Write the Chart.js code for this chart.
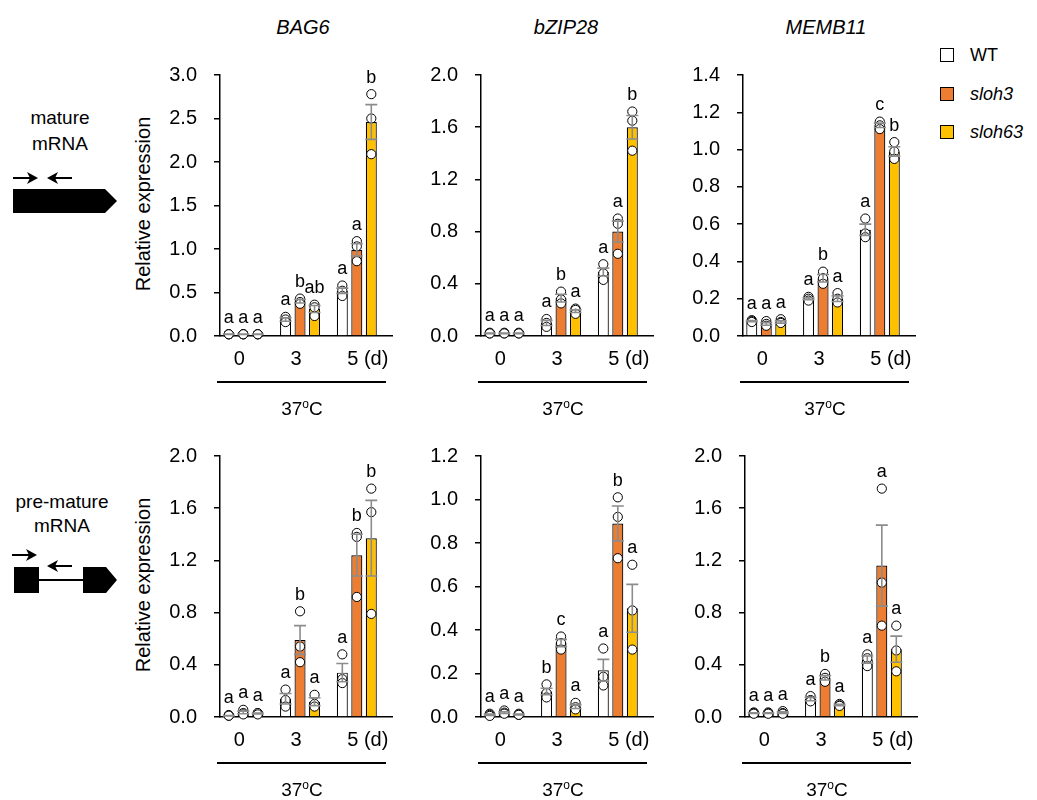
<!DOCTYPE html>
<html>
<head>
<meta charset="utf-8">
<script src="https://cdn.jsdelivr.net/npm/chart.js@4.4.1/dist/chart.umd.min.js"></script>
<style>
  body { margin: 0; background: #fff; font-family: Arial, "Liberation Sans", sans-serif; color: #000; }
  #fig { position: relative; width: 1037px; height: 800px; overflow: hidden; }
  .abs { position: absolute; white-space: nowrap; }
  .gene { font-style: italic; font-size: 20px; transform: translate(-50%, -50%); }
  .temp { font-size: 19px; transform: translate(-50%, -50%); }
  .temp sup { font-size: 12px; vertical-align: 7px; line-height: 0; }
  .uline { height: 1.5px; background: #000; }
  .ytitle { font-size: 20px; transform: translate(-50%, -50%) rotate(-90deg); }
  canvas { position: absolute; }
  .key { position: absolute; width: 12px; height: 12px; border: 1.5px solid #000; }
  .keytxt { font-size: 18px; transform: translateY(-50%); }
</style>
</head>
<body>
<div id="fig">
  <svg class="abs" style="left:0;top:0" width="130" height="800">
    <g font-family="Arial, 'Liberation Sans', sans-serif" font-size="19" text-anchor="middle" dominant-baseline="middle">
      <text x="60" y="119">mature</text>
      <text x="60" y="145">mRNA</text>
      <text x="62" y="503">pre-mature</text>
      <text x="62" y="527">mRNA</text>
    </g>
    <!-- mature mRNA -->
    <line x1="13" y1="178" x2="31" y2="178" stroke="#000" stroke-width="2"/>
    <polygon points="38,178 27,172 30,178 27,184" fill="#000"/>
    <line x1="54" y1="178" x2="72" y2="178" stroke="#000" stroke-width="2"/>
    <polygon points="47,178 58,172 55,178 58,184" fill="#000"/>
    <polygon points="13,189 105,189 117,201 105,213 13,213" fill="#000"/>
    <!-- pre-mature mRNA -->
    <line x1="12" y1="555" x2="30" y2="555" stroke="#000" stroke-width="2"/>
    <polygon points="37,555 26,549 29,555 26,561" fill="#000"/>
    <line x1="54" y1="566" x2="72" y2="566" stroke="#000" stroke-width="2"/>
    <polygon points="47,566 58,560 55,566 58,572" fill="#000"/>
    <rect x="14" y="567" width="25" height="26" fill="#000"/>
    <line x1="39" y1="580" x2="84" y2="580" stroke="#000" stroke-width="2"/>
    <polygon points="83,567 106,567 117,580 106,593 83,593" fill="#000"/>
  </svg>

  <div class="abs gene" style="left:303px;top:27px">BAG6</div>
  <div class="abs gene" style="left:566px;top:27px">bZIP28</div>
  <div class="abs gene" style="left:826px;top:27px">MEMB11</div>

  <div class="abs ytitle" style="left:143px;top:204px">Relative expression</div>
  <div class="abs ytitle" style="left:143px;top:585px">Relative expression</div>

  <div class="key" style="left:940px;top:48px;background:#fff"></div>
  <div class="key" style="left:940px;top:87px;background:#ed7d31"></div>
  <div class="key" style="left:940px;top:125px;background:#ffc000"></div>
  <div class="abs keytxt" style="left:970px;top:55px">WT</div>
  <div class="abs keytxt" style="left:970px;top:94px;font-style:italic">sloh3</div>
  <div class="abs keytxt" style="left:970px;top:132px;font-style:italic">sloh63</div>

  <canvas id="bag6Mat" width="290" height="350"></canvas>
  <canvas id="bzip28Mat" width="290" height="350"></canvas>
  <canvas id="memb11Mat" width="290" height="350"></canvas>
  <canvas id="bag6Pre" width="290" height="350"></canvas>
  <canvas id="bzip28Pre" width="290" height="350"></canvas>
  <canvas id="memb11Pre" width="290" height="350"></canvas>
</div>

<script>
// x categories and genotypes
const days = ["0", "3", "5"];
const dayUnit = "(d)";
const lines = ["WT", "sloh3", "sloh63"];
const tempLabel = "37";

// ---- mature mRNA ----
// rows: WT, sloh3, sloh63 ; columns: 0, 3, 5 d
const bag6MatMean = [[0.02, 0.19, 0.52], [0.02, 0.40, 0.99], [0.02, 0.31, 2.46]];
const bag6MatSE = [[0.002, 0.02, 0.03], [0.002, 0.02, 0.07], [0.002, 0.04, 0.20]];
const bag6MatPts = [
  [[0.02, 0.02, 0.02], [0.22, 0.19, 0.16], [0.58, 0.52, 0.46]],
  [[0.02, 0.02, 0.02], [0.43, 0.39, 0.37], [1.09, 1.03, 0.86]],
  [[0.02, 0.02, 0.02], [0.36, 0.33, 0.23], [2.78, 2.50, 2.09]]
];
const bag6MatLetters = [["a", "a", "a"], ["a", "b", "a"], ["a", "ab", "b"]];

const bzip28MatMean = [[0.02, 0.10, 0.49], [0.02, 0.29, 0.80], [0.02, 0.19, 1.60]];
const bzip28MatSE = [[0.002, 0.02, 0.03], [0.002, 0.03, 0.08], [0.002, 0.01, 0.09]];
const bzip28MatPts = [
  [[0.025, 0.02, 0.02], [0.13, 0.10, 0.07], [0.55, 0.48, 0.43]],
  [[0.025, 0.02, 0.02], [0.34, 0.28, 0.25], [0.90, 0.86, 0.63]],
  [[0.025, 0.02, 0.02], [0.21, 0.20, 0.17], [1.72, 1.65, 1.42]]
];
const bzip28MatLetters = [["a", "a", "a"], ["a", "b", "a"], ["a", "a", "b"]];

const memb11MatMean = [[0.08, 0.20, 0.57], [0.065, 0.31, 1.13], [0.075, 0.20, 0.99]];
const memb11MatSE = [[0.003, 0.005, 0.03], [0.007, 0.02, 0.012], [0.006, 0.015, 0.025]];
const memb11MatPts = [
  [[0.085, 0.08, 0.075], [0.21, 0.20, 0.19], [0.63, 0.55, 0.53]],
  [[0.08, 0.065, 0.055], [0.345, 0.31, 0.28], [1.15, 1.13, 1.11]],
  [[0.09, 0.075, 0.07], [0.23, 0.20, 0.18], [1.04, 0.99, 0.95]]
];
const memb11MatLetters = [["a", "a", "a"], ["a", "b", "c"], ["a", "a", "b"]];

// ---- pre-mature mRNA ----
const bag6PreMean = [[0.01, 0.14, 0.34], [0.035, 0.59, 1.24], [0.027, 0.117, 1.37]];
const bag6PreSE = [[0.002, 0.04, 0.07], [0.01, 0.11, 0.16], [0.003, 0.03, 0.29]];
const bag6PrePts = [
  [[0.015, 0.01, 0.01], [0.21, 0.13, 0.08], [0.48, 0.29, 0.26]],
  [[0.055, 0.03, 0.02], [0.81, 0.54, 0.42], [1.41, 1.38, 0.92]],
  [[0.03, 0.03, 0.02], [0.17, 0.10, 0.08], [1.75, 1.57, 0.79]]
];
const bag6PreLetters = [["a", "a", "a"], ["a", "b", "b"], ["a", "a", "b"]];

const bzip28PreMean = [[0.01, 0.117, 0.215], [0.02, 0.34, 0.89], [0.012, 0.048, 0.50]];
const bzip28PreSE = [[0.003, 0.015, 0.05], [0.004, 0.017, 0.08], [0.002, 0.009, 0.11]];
const bzip28PrePts = [
  [[0.015, 0.01, 0.005], [0.15, 0.11, 0.09], [0.315, 0.185, 0.145]],
  [[0.03, 0.02, 0.015], [0.37, 0.34, 0.31], [1.01, 0.92, 0.73]],
  [[0.015, 0.01, 0.01], [0.065, 0.045, 0.035], [0.70, 0.49, 0.31]]
];
const bzip28PreLetters = [["a", "b", "a"], ["a", "c", "b"], ["a", "a", "a"]];

const memb11PreMean = [[0.03, 0.137, 0.44], [0.03, 0.30, 1.16], [0.033, 0.092, 0.52]];
const memb11PreSE = [[0.003, 0.012, 0.027], [0.003, 0.017, 0.31], [0.006, 0.005, 0.10]];
const memb11PrePts = [
  [[0.035, 0.03, 0.025], [0.16, 0.13, 0.12], [0.48, 0.45, 0.39]],
  [[0.035, 0.03, 0.025], [0.33, 0.30, 0.27], [1.75, 1.03, 0.70]],
  [[0.045, 0.03, 0.025], [0.10, 0.09, 0.085], [0.70, 0.51, 0.35]]
];
const memb11PreLetters = [["a", "a", "a"], ["a", "b", "a"], ["a", "a", "a"]];

// y axis ranges
const yMax = [3.0, 2.0, 1.4, 2.0, 1.2, 2.0];
const yStep = [0.5, 0.4, 0.2, 0.4, 0.2, 0.4];

// ===== layout / style =====
const barColors = ["#ffffff", "#ed7d31", "#ffc000"];
const FONT = "Arial, 'Liberation Sans', sans-serif";
const axisX = [220, 481, 743, 220, 481, 745];
const rowTop = [60, 60, 60, 441, 441, 441];

const panels = [
  { id: "bag6Mat", mean: bag6MatMean, se: bag6MatSE, pts: bag6MatPts, letters: bag6MatLetters },
  { id: "bzip28Mat", mean: bzip28MatMean, se: bzip28MatSE, pts: bzip28MatPts, letters: bzip28MatLetters },
  { id: "memb11Mat", mean: memb11MatMean, se: memb11MatSE, pts: memb11MatPts, letters: memb11MatLetters },
  { id: "bag6Pre", mean: bag6PreMean, se: bag6PreSE, pts: bag6PrePts, letters: bag6PreLetters },
  { id: "bzip28Pre", mean: bzip28PreMean, se: bzip28PreSE, pts: bzip28PrePts, letters: bzip28PreLetters },
  { id: "memb11Pre", mean: memb11PreMean, se: memb11PreSE, pts: memb11PrePts, letters: memb11PreLetters }
];
const panelById = {};
panels.forEach(p => { panelById[p.id] = p; });

// replicate dots, error bars, letters and x labels
const overlay = {
  id: "overlay",
  afterDatasetsDraw(chart) {
    const p = panelById[chart.canvas.id];
    const ctx = chart.ctx;
    const ys = chart.scales.y;
    const xs = chart.scales.x;
    const r = 4.6;
    ctx.save();
    lines.forEach((name, s) => {
      const meta = chart.getDatasetMeta(s);
      meta.data.forEach((bar, i) => {
        const cx = bar.x;
        const m = p.mean[s][i];
        const e = p.se[s][i];
        const yHi = ys.getPixelForValue(m + e);
        const yLo = ys.getPixelForValue(Math.max(0, m - e));
        let top = yHi;
        p.pts[s][i].forEach(v => {
          const cy = ys.getPixelForValue(v);
          ctx.beginPath();
          ctx.arc(cx, cy, r, 0, Math.PI * 2);
          ctx.fillStyle = "#fff";
          ctx.fill();
          ctx.lineWidth = 1;
          ctx.strokeStyle = "#000";
          ctx.stroke();
          top = Math.min(top, cy - r);
        });
        ctx.strokeStyle = "#8c8c8c";
        ctx.lineWidth = 1.6;
        ctx.beginPath();
        ctx.moveTo(cx, yHi); ctx.lineTo(cx, yLo);
        ctx.moveTo(cx - 6, yHi); ctx.lineTo(cx + 6, yHi);
        ctx.moveTo(cx - 6, yLo); ctx.lineTo(cx + 6, yLo);
        ctx.stroke();
        ctx.fillStyle = "#000";
        ctx.font = "18px " + FONT;
        ctx.textAlign = "center";
        ctx.textBaseline = "alphabetic";
        ctx.fillText(p.letters[s][i], cx, top - 7);
      });
    });
    // day labels under the axis
    const ly = chart.chartArea.bottom + 23;
    ctx.font = "20px " + FONT;
    ctx.fillStyle = "#000";
    ctx.textBaseline = "middle";
    days.forEach((d, i) => {
      const cx = xs.getPixelForValue(i) - 4;
      ctx.textAlign = "center";
      ctx.fillText(d, cx, ly);
      if (i === days.length - 1) {
        const w = ctx.measureText(d).width;
        ctx.textAlign = "left";
        ctx.fillText(" " + dayUnit, cx + w / 2, ly);
      }
    });
    ctx.restore();
  }
};

panels.forEach((p, k) => {
  const canvas = document.getElementById(p.id);
  canvas.style.left = (axisX[k] - 100) + "px";
  canvas.style.top = rowTop[k] + "px";

  const datasets = lines.map((name, s) => ({
    label: name,
    data: p.mean[s].map((v, i) => ({ x: i, y: v })),
    backgroundColor: barColors[s],
    borderColor: "#000",
    borderWidth: 1.2,
    categoryPercentage: 0.766,
    barPercentage: 0.76
  }));

  new Chart(canvas, {
    type: "bar",
    data: { datasets: datasets },
    options: {
      responsive: false,
      animation: false,
      layout: { padding: { top: 15, right: 18, left: 0, bottom: 0 } },
      plugins: { legend: { display: false }, tooltip: { enabled: false } },
      scales: {
        x: {
          type: "linear",
          min: -0.41,
          max: 2.62,
          offset: false,
          ticks: { display: false, stepSize: 1, includeBounds: false },
          grid: { display: false },
          border: { display: true, color: "#000", width: 1.5 },
          afterFit: s => { s.height = 74; s.paddingLeft = 0; s.paddingRight = 0; }
        },
        y: {
          min: 0,
          max: yMax[k],
          ticks: {
            stepSize: yStep[k],
            color: "#000",
            padding: 17,
            font: { size: 20, family: FONT },
            callback: v => Number(v).toFixed(1)
          },
          grid: { drawOnChartArea: false, drawTicks: true, tickLength: 6, color: "#000", lineWidth: 1.5 },
          border: { display: true, color: "#000", width: 1.5 },
          afterFit: s => { s.width = 100; s.paddingTop = 0; s.paddingBottom = 0; }
        }
      }
    },
    plugins: [overlay]
  });

  // underline and temperature label
  const fig = document.getElementById("fig");
  const ul = document.createElement("div");
  ul.className = "abs uline";
  ul.style.left = (axisX[k] - 3) + "px";
  ul.style.width = "169px";
  ul.style.top = (rowTop[k] + 321) + "px";
  fig.appendChild(ul);
  const t = document.createElement("div");
  t.className = "abs temp";
  t.style.left = (axisX[k] + 82) + "px";
  t.style.top = (rowTop[k] + 349) + "px";
  t.innerHTML = tempLabel + "<sup>o</sup>C";
  fig.appendChild(t);
});
</script>
</body>
</html>
